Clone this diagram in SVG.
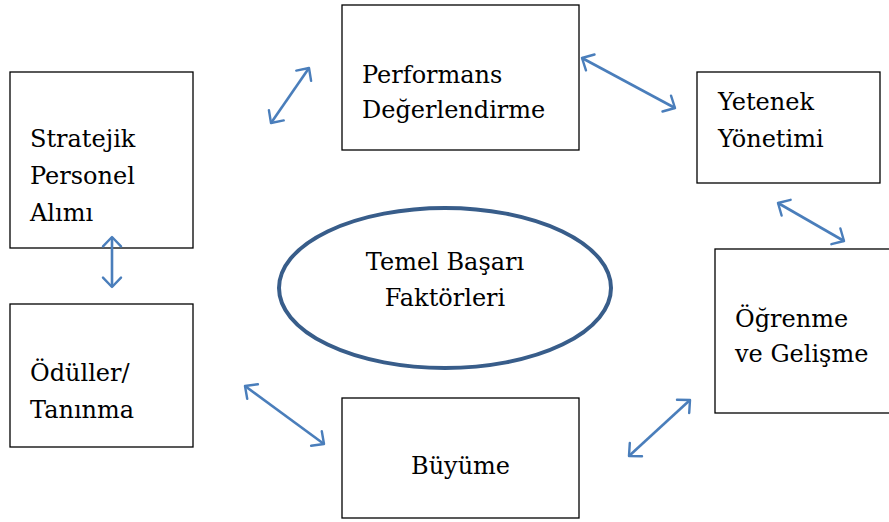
<svg xmlns="http://www.w3.org/2000/svg" width="889" height="522" viewBox="0 0 889 522">
<defs>
<style>
.box{fill:#fff;stroke:#000;stroke-width:1.3}
text{font-family:'DejaVu Serif','Liberation Serif',serif;font-size:24px;fill:#000}
.c{stroke:#4A7EBB;stroke-width:2.6;fill:none;marker-start:url(#ah);marker-end:url(#ah)}
</style>
<marker id="ah" viewBox="0 0 12 12" refX="11" refY="6" markerWidth="8" markerHeight="8" orient="auto-start-reverse" markerUnits="strokeWidth" overflow="visible">
<path d="M5.6,0.8 L11,6 L5.6,11.2" fill="none" stroke="#4A7EBB" stroke-width="1.4" stroke-linecap="round" stroke-linejoin="round"/>
</marker>
</defs>
<rect width="889" height="522" fill="#fff"/>
<g id="stratejik">
<rect class="box" x="10" y="72" width="183" height="176"/>
<text x="30" y="147">Stratejik</text>
<text x="30" y="184">Personel</text>
<text x="30" y="221">Alımı</text>
</g>
<g id="performans">
<rect class="box" x="342" y="5" width="237" height="145"/>
<text x="362" y="83">Performans</text>
<text x="362" y="118">Değerlendirme</text>
</g>
<g id="yetenek">
<rect class="box" x="697" y="72" width="183" height="111"/>
<text x="718" y="110">Yetenek</text>
<text x="718" y="147">Yönetimi</text>
</g>
<g id="ogrenme">
<rect class="box" x="715" y="249" width="180" height="164"/>
<text x="735" y="327">Öğrenme</text>
<text x="735" y="362">ve Gelişme</text>
</g>
<g id="oduller">
<rect class="box" x="10" y="304" width="183" height="143"/>
<text x="30" y="381">Ödüller/</text>
<text x="30" y="418">Tanınma</text>
</g>
<g id="buyume">
<rect class="box" x="342" y="398" width="237" height="120"/>
<text x="411" y="474">Büyüme</text>
</g>
<g id="temel">
<ellipse cx="445" cy="288" rx="166" ry="80" fill="#fff" stroke="#385D8A" stroke-width="4"/>
<text x="445" y="270" text-anchor="middle">Temel Başarı</text>
<text x="445" y="306" text-anchor="middle">Faktörleri</text>
</g>
<g id="connectors">
<line class="c" x1="271" y1="123" x2="309" y2="68"/>
<line class="c" x1="582" y1="58" x2="675" y2="108"/>
<line class="c" x1="778" y1="203" x2="844" y2="241"/>
<line class="c" x1="112" y1="237" x2="112" y2="287"/>
<line class="c" x1="245" y1="386" x2="324" y2="444"/>
<line class="c" x1="629" y1="456" x2="690" y2="400"/>
</g>
</svg>
